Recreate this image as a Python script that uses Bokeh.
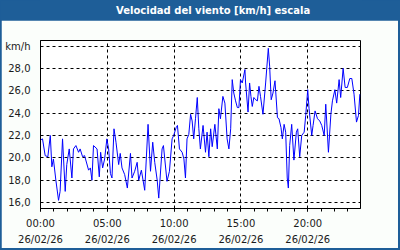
from bokeh.plotting import figure
from bokeh.layouts import column
from bokeh.models import Range1d, FixedTicker
from bokeh.core.properties import value
from bokeh.embed import file_html
from bokeh.resources import INLINE

TITLE = "Velocidad del viento [km/h] escala"
UNIT = "km/h"
DATE = "26/02/26"
HOURS = ["00:00", "05:00", "10:00", "15:00", "20:00"]

# minutes since 00:00 and wind speed in km/h
minutes = [0, 9, 21, 33, 44, 51, 58, 69, 81, 88, 99, 111, 118, 129, 141, 148, 159, 171, 178, 189,
           198, 216, 224, 231, 238, 254, 264, 270, 279, 288, 298, 306, 314, 321, 330, 339, 351, 358,
           366, 378, 390, 404, 411, 423, 434, 441, 453, 468, 483, 494, 504, 513, 524, 531, 546, 552,
           568, 579, 591, 598, 609, 615, 624, 636, 644, 651, 658, 666, 674, 681, 688, 696, 704, 711,
           718, 730, 741, 748, 756, 764, 771, 783, 794, 801, 808, 819, 828, 838, 846, 854, 861, 868,
           876, 884, 891, 898, 906, 918, 921, 932, 939, 945, 951, 958, 966, 974, 981, 988, 999, 1011,
           1023, 1029, 1036, 1044, 1053, 1064, 1071, 1080, 1086, 1094, 1101, 1108, 1113, 1119, 1128,
           1138, 1149, 1155, 1164, 1173, 1184, 1191, 1200, 1206, 1218, 1224, 1233, 1244, 1254, 1263,
           1274, 1281, 1293, 1304, 1311, 1322, 1330, 1341, 1348, 1359, 1368, 1378, 1389, 1398, 1408,
           1419, 1428, 1434]
speed = [21.6, 21.7, 20.2, 20.1, 22.0, 19.2, 19.9, 18.0, 16.2, 17.0, 21.7, 17.0, 19.4, 20.8, 18.2,
         20.8, 21.1, 20.5, 20.8, 20.1, 20.2, 18.9, 19.1, 18.0, 21.1, 20.8, 18.3, 20.5, 19.1, 19.9,
         21.7, 20.8, 18.6, 18.2, 22.6, 21.4, 19.4, 20.4, 19.1, 18.5, 17.3, 20.4, 18.2, 18.8, 19.6,
         18.0, 18.9, 17.1, 23.0, 18.8, 21.4, 19.6, 18.0, 16.4, 20.8, 21.1, 17.9, 18.8, 21.7, 22.0,
         22.7, 22.9, 20.8, 20.5, 19.9, 18.2, 21.7, 22.1, 23.9, 23.3, 21.7, 23.5, 25.4, 22.6, 20.8,
         22.9, 20.5, 22.3, 20.1, 22.6, 21.0, 23.0, 20.8, 24.4, 23.5, 25.5, 24.9, 21.7, 20.8, 22.6,
         27.0, 25.8, 25.1, 24.5, 24.5, 27.0, 26.7, 27.9, 26.7, 24.1, 26.7, 25.5, 24.6, 25.4, 25.2,
         25.1, 26.4, 25.5, 23.9, 26.7, 29.8, 28.2, 25.2, 25.8, 26.9, 23.6, 23.5, 22.7, 21.7, 23.0,
         22.3, 18.2, 17.3, 21.1, 23.0, 19.8, 22.3, 22.6, 20.1, 22.0, 22.3, 23.8, 26.1, 24.4, 22.0,
         22.9, 24.2, 23.5, 23.3, 22.9, 22.0, 24.8, 20.5, 23.9, 25.1, 26.1, 24.9, 27.0, 25.4, 28.0,
         26.3, 26.3, 27.1, 27.1, 25.7, 23.2, 23.8, 25.7]

y_ticks = [16, 18, 20, 22, 24, 26, 28, 30]
x_ticks = [0, 300, 600, 900, 1200]
x_minor = [60 * h for h in range(25)]

BLUE = "#1e5e98"
BG = "#fbfefb"
FONT = "DejaVu Sans"

# title bar
t = figure(width=400, height=20, x_range=Range1d(0, 400), y_range=Range1d(0, 20),
           toolbar_location=None, output_backend="svg", min_border=0,
           outline_line_color=None, background_fill_color=BLUE, border_fill_color=BLUE)
t.axis.visible = False
t.grid.visible = False
t.text(x=[215], y=[10], text=[TITLE], text_font=value(FONT), text_font_style="bold",
       text_font_size="10px", text_color="white", text_align="center", text_baseline="middle")

# main chart
p = figure(width=397, height=228, x_range=Range1d(0, 1437), y_range=Range1d(15.47, 30.5),
           toolbar_location=None, output_backend="svg",
           min_border_left=39, min_border_right=38, min_border_top=20, min_border_bottom=38,
           margin=(0, 2, 2, 1), background_fill_color="white", border_fill_color=BG,
           outline_line_color="black", outline_line_width=1)

p.line(minutes, speed, line_color="#0000ff", line_width=1)

p.xaxis.ticker = FixedTicker(ticks=x_ticks, minor_ticks=x_minor)
p.xaxis.major_label_overrides = {m: f"{h}\n{DATE}" for m, h in zip(x_ticks, HOURS)}
p.yaxis.ticker = FixedTicker(ticks=y_ticks)
p.yaxis.major_label_overrides = {v: (UNIT if v == 30 else f"{v:.1f}".replace(".", ",")) for v in y_ticks}

for ax in (p.xaxis[0], p.yaxis[0]):
    ax.axis_line_color = "black"
    ax.major_label_text_font = FONT
    ax.major_label_text_font_size = "10px"
    ax.major_label_text_color = "#1a1a1a"

p.yaxis.major_tick_line_color = None
p.yaxis.minor_tick_line_color = None
p.yaxis.major_label_standoff = 4

p.xaxis.major_tick_in = 0
p.xaxis.major_tick_out = 3
p.xaxis.minor_tick_in = 0
p.xaxis.minor_tick_out = 3
p.xaxis.major_tick_line_color = "black"
p.xaxis.minor_tick_line_color = "black"
p.xaxis.major_label_standoff = 6
p.xaxis.major_label_text_line_height = 1.5

p.grid.grid_line_color = "black"
p.grid.grid_line_dash = "3 3"
p.grid.grid_line_width = 1

layout = column(t, p, styles={"background-color": BLUE})

open("out.html", "w").write(file_html(layout, INLINE))
